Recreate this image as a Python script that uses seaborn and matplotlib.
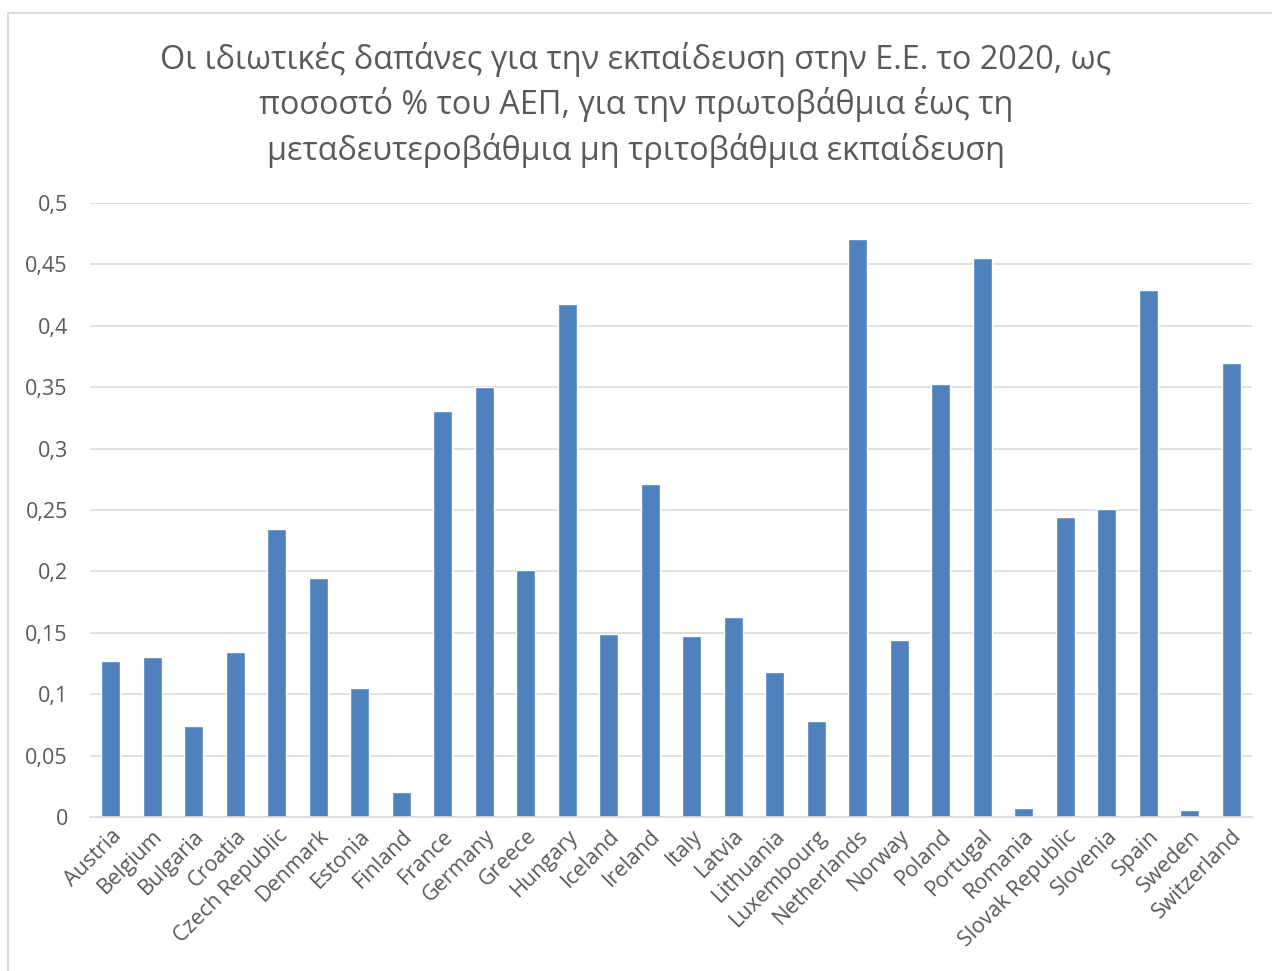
import seaborn as sns
import matplotlib.pyplot as plt
import pandas as pd
from matplotlib.ticker import FuncFormatter, MultipleLocator
from matplotlib.patches import Rectangle

countries = ["Austria", "Belgium", "Bulgaria", "Croatia", "Czech Republic", "Denmark",
             "Estonia", "Finland", "France", "Germany", "Greece", "Hungary", "Iceland",
             "Ireland", "Italy", "Latvia", "Lithuania", "Luxembourg", "Netherlands",
             "Norway", "Poland", "Portugal", "Romania", "Slovak Republic", "Slovenia",
             "Spain", "Sweden", "Switzerland"]
values = [0.127, 0.130, 0.074, 0.134, 0.2345, 0.195, 0.105, 0.020, 0.331, 0.350,
          0.201, 0.418, 0.149, 0.271, 0.147, 0.163, 0.118, 0.078, 0.471, 0.144,
          0.353, 0.455, 0.007, 0.244, 0.251, 0.429, 0.006, 0.370]

title = ("Οι ιδιωτικές δαπάνες για την εκπαίδευση στην Ε.Ε. το 2020, ως\n"
         "ποσοστό % του ΑΕΠ, για την πρωτοβάθμια έως τη\n"
         "μεταδευτεροβάθμια μη τριτοβάθμια εκπαίδευση")

df = pd.DataFrame({"country": countries, "value": values})

sns.set_style("white")
plt.rcParams["font.family"] = ["Open Sans", "DejaVu Sans"]
text_col = "#595959"

fig = plt.figure(figsize=(12.72, 9.71), dpi=100)
ax = fig.add_axes([90 / 1272, 1 - 817 / 971, (1252 - 90) / 1272, (817 - 203) / 971])

sns.barplot(data=df, x="country", y="value", color="#4f81bd", saturation=1,
            width=0.45, ax=ax)

ax.set_ylim(0, 0.5)
ax.set_xlim(-0.5, len(countries) - 0.5)
ax.yaxis.set_major_locator(MultipleLocator(0.05))
ax.yaxis.set_major_formatter(FuncFormatter(
    lambda v, p: "0" if abs(v) < 1e-9 else ("%g" % round(v, 2)).replace(".", ",")))
ax.grid(axis="y", color="#d9d9d9", linewidth=1.2)
ax.set_axisbelow(True)
for s in ["top", "right", "left"]:
    ax.spines[s].set_visible(False)
ax.spines["bottom"].set_color("#d9d9d9")
ax.spines["bottom"].set_linewidth(1.2)
ax.tick_params(axis="both", length=0, colors=text_col, labelsize=15.5)
ax.tick_params(axis="y", pad=16)
ax.tick_params(axis="x", pad=6)
plt.setp(ax.get_xticklabels(), rotation=45, ha="right", rotation_mode="anchor")
ax.set_xlabel("")
ax.set_ylabel("")

fig.text(0.5, 1 - 105 / 971, title, ha="center", va="center", fontsize=23.3,
         color=text_col, linespacing=1.4)

fig.patches.append(Rectangle((8 / 1272, -0.1), 1.2, 1 - 13 / 971 + 0.1,
                             transform=fig.transFigure, fill=False,
                             edgecolor="#d9d9d9", linewidth=1.5))

plt.savefig("out.png", dpi=100)
